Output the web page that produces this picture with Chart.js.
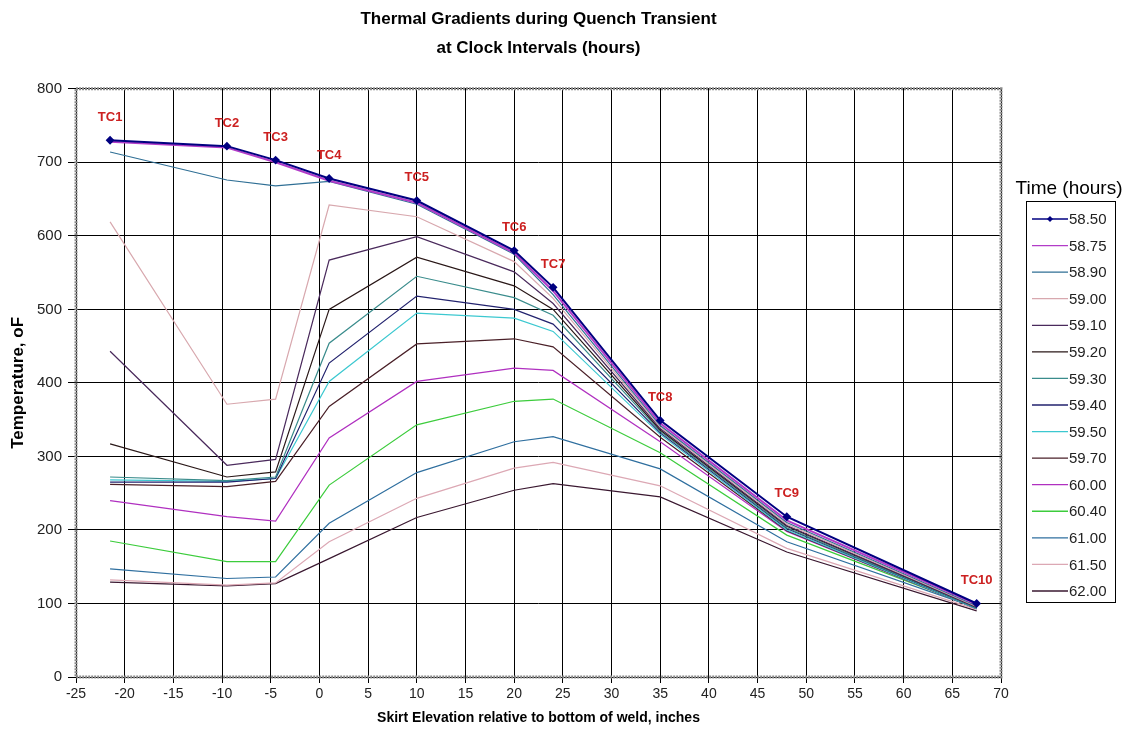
<!DOCTYPE html>
<html>
<head>
<meta charset="utf-8">
<script src="https://cdn.jsdelivr.net/npm/chart.js@4/dist/chart.umd.min.js"></script>
<style>
  html, body { margin: 0; padding: 0; background: #fff; }
  #wrap { width: 1135px; height: 737px; }
</style>
</head>
<body>
<div id="wrap"><canvas id="quenchChart"></canvas></div>
<script>
// thermocouple positions (inches relative to bottom of weld)
const tcLabels = ["TC1", "TC2", "TC3", "TC4", "TC5", "TC6", "TC7", "TC8", "TC9", "TC10"];
const elevation = [-21.5, -9.5, -4.5, 1, 10, 20, 24, 35, 48, 67.5];

// temperatures (oF) per clock time
const times = ["58.50", "58.75", "58.90", "59.00", "59.10", "59.20", "59.30", "59.40",
               "59.50", "59.70", "60.00", "60.40", "61.00", "61.50", "62.00"];
const t5850 = [730, 722, 703, 678, 648, 580, 530, 349, 218, 100];
const t5875 = [728, 720, 700, 675, 645, 577, 525, 345, 213, 99];
const t5890 = [714, 676, 668, 674, 643, 575, 520, 342, 210, 97];
const t5900 = [619, 371, 378, 642, 626, 565, 515, 340, 208, 96];
const t5910 = [443, 288, 296, 567, 599, 551, 508, 338, 206, 95];
const t5920 = [317, 272, 279, 500, 571, 532, 500, 336, 205, 95];
const t5930 = [272, 267, 272, 454, 545, 516, 492, 334, 203, 94];
const t5940 = [265, 265, 270, 427, 518, 500, 480, 332, 202, 94];
const t5950 = [268, 266, 270, 402, 495, 488, 470, 330, 200, 93];
const t5970 = [262, 259, 266, 368, 453, 460, 449, 326, 199, 93];
const t6000 = [240, 218, 212, 325, 402, 420, 417, 320, 198, 93];
const t6040 = [185, 157, 157, 261, 343, 375, 378, 305, 193, 94];
const t6100 = [147, 134, 136, 209, 278, 320, 327, 283, 184, 94];
const t6150 = [132, 125, 128, 184, 243, 284, 292, 260, 175, 92];
const t6200 = [129, 124, 127, 161, 217, 254, 263, 245, 170, 90];

const series = [t5850, t5875, t5890, t5900, t5910, t5920, t5930, t5940,
                t5950, t5970, t6000, t6040, t6100, t6150, t6200];
const colors = ['#000080', '#b23cc8', '#2f6f95', '#d8a8ae', '#4a2a5c', '#2a1818', '#3a8c8c', '#22226e',
                '#3cc8d0', '#4a2028', '#b030c0', '#3ccc3c', '#2f6f9f', '#dca8b4', '#3a1830'];

const FONT = 'Arial, "Liberation Sans", sans-serif';

const datasets = series.map((vals, i) => ({
  label: times[i],
  data: vals.map((v, j) => ({ x: elevation[j], y: v })),
  borderColor: colors[i],
  backgroundColor: colors[i],
  borderWidth: i < 2 ? 2 : 1.2,
  pointRadius: i === 0 ? 3 : 0,
  pointStyle: 'rectRot',
  tension: 0
}));

// red TC labels above the first series' points
const tcLabelPlugin = {
  id: 'tcLabels',
  afterDatasetsDraw(chart) {
    const ctx = chart.ctx;
    const meta = chart.getDatasetMeta(0);
    ctx.save();
    ctx.font = 'bold 13px ' + FONT;
    ctx.fillStyle = '#cc2020';
    ctx.textAlign = 'center';
    ctx.textBaseline = 'middle';
    meta.data.forEach((pt, i) => ctx.fillText(tcLabels[i], pt.x, pt.y - 23));
    ctx.restore();
  }
};

// excel-like frame and boxed legend on the right
const framePlugin = {
  id: 'frame',
  afterDraw(chart) {
    const ctx = chart.ctx;
    const a = chart.chartArea;
    ctx.save();
    ctx.strokeStyle = '#8a8a8a';
    ctx.lineWidth = 3;
    ctx.setLineDash([2, 1]);
    ctx.strokeRect(a.left, a.top, a.right - a.left, a.bottom - a.top);
    ctx.setLineDash([]);

    // legend
    ctx.fillStyle = '#000';
    ctx.font = '19px ' + FONT;
    ctx.textAlign = 'center';
    ctx.textBaseline = 'middle';
    ctx.fillText('Time (hours)', 1069, 189);
    ctx.strokeStyle = '#000';
    ctx.lineWidth = 1;
    ctx.strokeRect(1026.5, 201.5, 89, 401);
    ctx.font = '15px ' + FONT;
    ctx.textAlign = 'left';
    chart.data.datasets.forEach((ds, i) => {
      const y = 219 + i * 26.57;
      ctx.strokeStyle = ds.borderColor;
      ctx.lineWidth = 1.3;
      ctx.beginPath();
      ctx.moveTo(1032, y);
      ctx.lineTo(1068, y);
      ctx.stroke();
      if (ds.pointRadius > 0) {
        ctx.fillStyle = ds.borderColor;
        ctx.beginPath();
        ctx.moveTo(1050, y - 3);
        ctx.lineTo(1053, y);
        ctx.lineTo(1050, y + 3);
        ctx.lineTo(1047, y);
        ctx.closePath();
        ctx.fill();
      }
      ctx.fillStyle = '#222';
      ctx.fillText(ds.label, 1069, y + 1);
    });
    ctx.restore();
  }
};

new Chart(document.getElementById('quenchChart'), {
  type: 'line',
  data: { datasets: datasets },
  plugins: [tcLabelPlugin, framePlugin],
  options: {
    responsive: true,
    maintainAspectRatio: false,
    animation: false,
    layout: { padding: { left: 0, right: 134, top: 0, bottom: 0 } },
    plugins: {
      legend: { display: false },
      tooltip: { enabled: false },
      title: {
        display: true,
        fullSize: false,
        text: ['Thermal Gradients during Quench Transient', 'at Clock Intervals (hours)'],
        color: '#000',
        font: { family: FONT, size: 17, weight: 'bold', lineHeight: 1.7 },
        padding: { top: 5, bottom: 26 }
      }
    },
    scales: {
      x: {
        type: 'linear',
        min: -25,
        max: 70,
        afterFit(scale) { scale.height = 60; },
        ticks: {
          stepSize: 5,
          color: '#222',
          padding: 3,
          font: { family: FONT, size: 14 }
        },
        grid: { color: '#000', lineWidth: 1, tickLength: 6, tickColor: '#000' },
        border: { display: false },
        title: {
          display: true,
          text: 'Skirt Elevation relative to bottom of weld, inches',
          color: '#000',
          font: { family: FONT, size: 14, weight: 'bold' },
          padding: { top: 4, bottom: 10 }
        }
      },
      y: {
        min: 0,
        max: 800,
        afterFit(scale) { scale.width = 76; },
        ticks: {
          stepSize: 100,
          color: '#222',
          padding: 6,
          font: { family: FONT, size: 15 }
        },
        grid: { color: '#000', lineWidth: 1, tickLength: 8, tickColor: '#000' },
        border: { display: false },
        title: {
          display: true,
          text: 'Temperature, oF',
          color: '#000',
          font: { family: FONT, size: 17, weight: 'bold' },
          padding: { top: 8, bottom: 4 }
        }
      }
    }
  }
});
</script>
</body>
</html>
